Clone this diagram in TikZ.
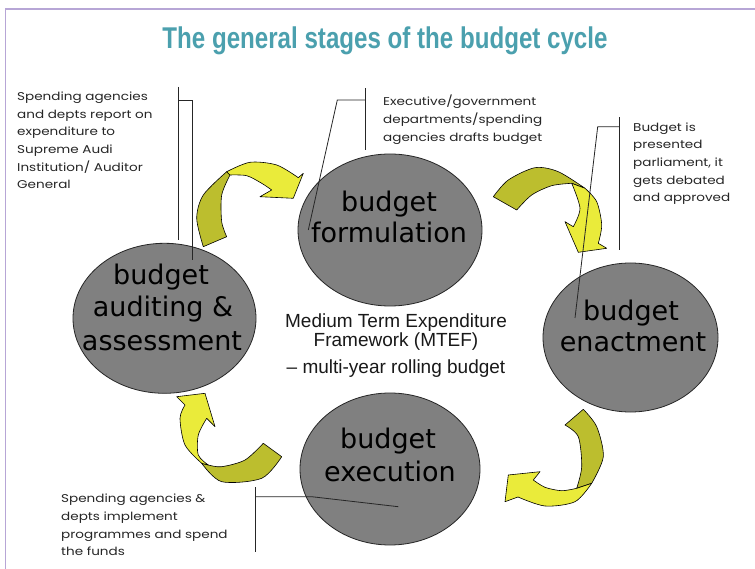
\documentclass[tikz,border=0pt]{standalone}
\usepackage{fontspec}
\setmainfont{Liberation Sans}
\newfontfamily\ellfont{DejaVu Sans}
\newfontfamily\notefont[FakeStretch=1.2]{Poppins}
\usetikzlibrary{shapes.geometric}
\definecolor{framecol}{HTML}{B7A6D6}
\definecolor{titlecol}{HTML}{4BA0AE}
\definecolor{stagegray}{HTML}{808080}
\definecolor{arrdark}{HTML}{BCBE2E}
\definecolor{arrlight}{HTML}{EAEB3A}
\tikzset{
  stage/.style={ellipse, draw=black!85, line width=0.8pt, fill=stagegray, inner sep=0pt},
  stagetext/.style={font=\ellfont\fontsize{27}{32}\selectfont, align=center, inner sep=0pt, anchor=base},
  note/.style={font=\notefont\fontsize{11.3}{17.6}\selectfont, align=left, inner sep=0pt, anchor=north west, text=black!85},
  callout/.style={draw=black!85, line width=0.8pt},
  arrdk/.style={fill=arrdark, draw=black, line width=0.6pt, line join=round},
  arrlt/.style={fill=arrlight, draw=black, line width=0.6pt, line join=round},
  mtef/.style={font=\fontsize{19}{17}\selectfont, align=center, inner sep=0pt, text=black!90}
}
\begin{document}
\begin{tikzpicture}[x=1pt,y=-1pt]
\useasboundingbox (0,0) rectangle (755,569);
\fill[white] (0,0) rectangle (755,569);
\draw[framecol, line width=1.5pt] (5.5,569) -- (5.5,9) -- (755,9);

% title
\node[inner sep=0pt, text=titlecol, font=\bfseries\fontsize{30}{30}\selectfont] (title) at (385,41)
  {\resizebox{445pt}{\height}{The general stages of the budget cycle}};

% stages
\node[stage, minimum width=184pt, minimum height=152pt] (form) at (390,230) {};
\node[stage, minimum width=183pt, minimum height=150pt] (audit) at (164.5,318.3) {};
\node[stage, minimum width=175pt, minimum height=149pt] (enact) at (630.5,337.5) {};
\node[stage, minimum width=180pt, minimum height=152pt] (exec) at (390,469) {};

\node[stagetext] (formA) at (389,211.7) {budget};
\node[stagetext] (formB) at (389,243) {formulation};
\node[stagetext] (auditA) at (161,285) {budget};
\node[stagetext] (auditB) at (163,316.7) {auditing \&};
\node[stagetext] (auditC) at (162,350) {assessment};
\node[stagetext] (enactA) at (631,320) {budget};
\node[stagetext] (enactB) at (633,351.7) {enactment};
\node[stagetext] (execA) at (388,448.3) {budget};
\node[stagetext] (execB) at (390,481.7) {execution};

% centre text
\node[mtef, anchor=north] (mtef) at (396,313.5) {Medium Term Expenditure\\Framework (MTEF)};
\node[mtef, anchor=north] (rolling) at (396,359.5) {-- multi-year rolling budget};

% curved arrows
\path[arrdk] plot[smooth] coordinates {(203.3,246.7) (196.7,218.3) (203.3,195) (226.7,171.7)}
  -- (230,175) -- plot[smooth] coordinates {(230,175) (221.7,195) (221.7,221.7) (226.7,236.7)} -- cycle;
\path[arrlt] plot[smooth] coordinates {(226.7,171.7) (250,162.3) (276.7,165) (298.3,177.7)}
  -- (303.3,173.3) -- (293.3,198.3) -- (260,196.7) -- (271.7,190)
  -- plot[smooth] coordinates {(271.7,190) (261.7,183.3) (246.7,175.7) (230,175)} -- cycle;

\path[arrdk] plot[smooth] coordinates {(493.3,196.7) (508.3,180) (535,167.7) (558.3,171.7) (585,188.3)}
  -- (571.7,183.3) -- plot[smooth] coordinates {(571.7,183.3) (551.7,185.7) (531.7,195) (516.7,210)} -- cycle;
\path[arrlt] (571.7,183.3) -- plot[smooth] coordinates {(585,188.3) (596.7,201.7) (601.7,225) (598.3,243.3)}
  -- (606.7,248.3) -- (578.3,252.3) -- (565,221.7) -- (573.3,226.7)
  -- plot[smooth] coordinates {(573.3,226.7) (580,208.3) (571.7,183.3)} -- cycle;

\path[arrdk] (565,425) -- plot[smooth] coordinates {(583.3,409.3) (596.7,426.7) (603.3,456.7) (591.7,483.3)}
  -- (576.7,488.3) -- plot[smooth] coordinates {(576.7,488.3) (581.7,466.7) (578.3,436.7) (565,425)} -- cycle;
\path[arrlt] plot[smooth] coordinates {(576.7,488.3) (561.7,490.7) (545,487.3) (533.3,480)}
  -- (540,471.7) -- (508.3,475) -- (505,501.7) -- (518,497)
  -- plot[smooth] coordinates {(518,497) (545,506) (575,501.7) (591.7,483.3)} -- cycle;

\path[arrdk] plot[smooth] coordinates {(201.7,463.3) (221.7,481.7) (261.7,478.3) (281.7,456.7)}
  -- (263.3,443.3) -- plot[smooth] coordinates {(263.3,443.3) (245,460) (221.7,466.7) (208.3,465)} -- cycle;
\path[arrlt] plot[smooth] coordinates {(201.7,463.3) (185,445) (180,418.3) (185,405)}
  -- (176.7,396.7) -- (205,393.3) -- (215,426.7) -- (206.7,418.3)
  -- plot[smooth] coordinates {(206.7,418.3) (198.3,435) (198.3,455) (208.3,465)} -- cycle;

% notes
\node[note] (noteA) at (17,92) {Spending agencies\\and depts report on\\expenditure to\\Supreme Audi\\Institution/ Auditor\\General};
\node[note] (noteF) at (383,95) {Executive/government\\departments/spending\\agencies drafts budget};
\node[note] (noteE) at (633,122.5) {Budget is\\presented\\parliament,  it\\gets debated\\and approved};
\node[note] (noteX) at (61,494) {Spending agencies \&\\depts implement\\programmes  and spend\\the funds};

% callout lines
\coordinate (a1) at (178,87); \coordinate (a2) at (178,240);
\coordinate (a3) at (178,100.7); \coordinate (a4) at (192.7,100.7); \coordinate (a5) at (192.7,260);
\draw[callout] (a1) -- (a2);
\draw[callout] (a3) -- (a4) -- (a5);

\coordinate (f1) at (365.7,88.3); \coordinate (f2) at (365.7,150);
\coordinate (f3) at (365.7,100); \coordinate (f4) at (337.3,100); \coordinate (f5) at (308.3,230);
\draw[callout] (f1) -- (f2);
\draw[callout] (f3) -- (f4) -- (f5);

\coordinate (e1) at (619,117.3); \coordinate (e2) at (619,250);
\coordinate (e3) at (619,126.7); \coordinate (e4) at (597.7,126.7); \coordinate (e5) at (575,318);
\draw[callout] (e1) -- (e2);
\draw[callout] (e3) -- (e4) -- (e5);

\coordinate (x1) at (255,487.3); \coordinate (x2) at (255,551.7);
\coordinate (x3) at (255,496.7); \coordinate (x4) at (311.7,496.7); \coordinate (x5) at (398.3,506.7);
\draw[callout] (x1) -- (x2);
\draw[callout] (x3) -- (x4) -- (x5);
\end{tikzpicture}
\end{document}
